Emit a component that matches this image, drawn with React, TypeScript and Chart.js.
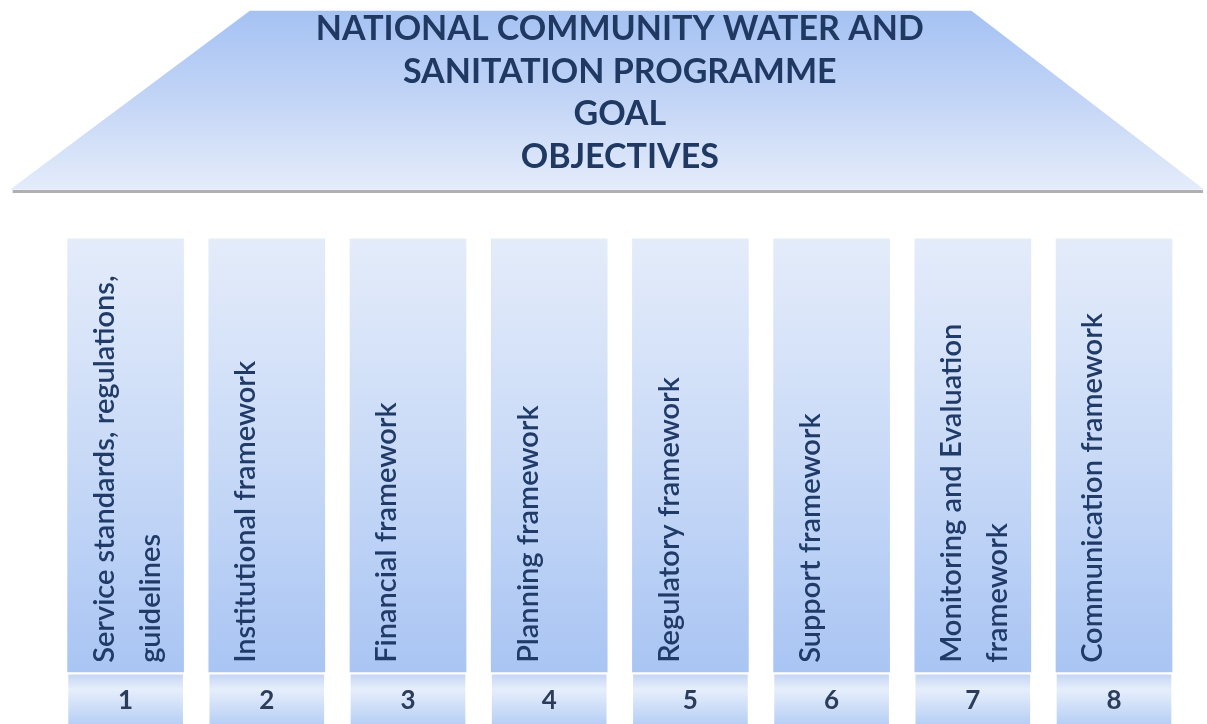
import React, { useEffect, useRef } from "react";
import { Chart, registerables } from "chart.js";

Chart.register(...registerables);

// ---- diagram content ----
// x in pillar-index units, y in "level" units (0 = bottom edge, 100 = top edge)
const pillarNumbers = ["1", "2", "3", "4", "5", "6", "7", "8"];
const pillarIndex = [0, 1, 2, 3, 4, 5, 6, 7];
const pillarLabels: string[][] = [
  ["Service standards, regulations,", "guidelines"],
  ["Institutional framework"],
  ["Financial framework"],
  ["Planning framework"],
  ["Regulatory framework"],
  ["Support framework"],
  ["Monitoring and Evaluation", "framework"],
  ["Communication framework"],
];
const titleLines = [
  "NATIONAL COMMUNITY WATER AND",
  "SANITATION PROGRAMME",
  "GOAL",
  "OBJECTIVES",
];
const pillarBottom = [7.2, 7.2, 7.2, 7.2, 7.2, 7.2, 7.2, 7.2];
const pillarTop = [67.0, 67.0, 67.0, 67.0, 67.0, 67.0, 67.0, 67.0];
const baseBottom = [-3, -3, -3, -3, -3, -3, -3, -3];
const baseTop = [6.8, 6.8, 6.8, 6.8, 6.8, 6.8, 6.8, 6.8];
const roofX = [-0.82, 0.88, 5.99, 7.64];
const roofY = [73.8, 98.5, 98.5, 73.8];
const roofShadowY = [73.55, 73.55];
const xRange = [-0.8895, 7.6586];

function vGrad(chart: any, yTop: number, yBottom: number, stops: [number, string][]) {
  const { ctx, chartArea, scales } = chart;
  if (!chartArea || !scales || !scales.y) return stops[stops.length - 1][1];
  const t = scales.y.getPixelForValue(yTop);
  const b = scales.y.getPixelForValue(yBottom);
  const g = ctx.createLinearGradient(0, t, 0, b);
  stops.forEach(([o, c]) => g.addColorStop(o, c));
  return g;
}

const FONT = "Lato, 'Open Sans', sans-serif";

const textPlugin = {
  id: "diagramText",
  afterDatasetsDraw(chart: any) {
    const { ctx, chartArea, scales } = chart;
    const y = scales.y;
    const x = scales.x;
    ctx.save();

    // title in the roof
    ctx.fillStyle = "#1f3962";
    ctx.font = `bold 34px ${FONT}`;
    ctx.textAlign = "center";
    ctx.textBaseline = "middle";
    const cx = x.getPixelForValue(3.5);
    const roofTopPx = y.getPixelForValue(roofY[1]);
    titleLines.forEach((t, i) => {
      ctx.fillText(t, cx, roofTopPx + 18 + i * 42.7);
    });

    // vertical pillar labels
    const pillars = chart.getDatasetMeta(2).data;
    ctx.font = `600 29px ${FONT}`;
    ctx.fillStyle = "#203b68";
    ctx.textAlign = "left";
    pillars.forEach((bar: any, i: number) => {
      const lines = pillarLabels[i];
      const startY = bar.base - 9;
      ctx.save();
      ctx.translate(bar.x - 21, startY);
      ctx.rotate(-Math.PI / 2);
      lines.forEach((l, j) => ctx.fillText(l, 0, j * 46));
      ctx.restore();
    });

    // numbers in the bases
    const bases = chart.getDatasetMeta(3).data;
    ctx.font = `bold 26px ${FONT}`;
    ctx.fillStyle = "#2c3d5c";
    ctx.textAlign = "center";
    bases.forEach((bar: any, i: number) => {
      ctx.fillText(pillarNumbers[i], bar.x, (bar.y + chartArea.bottom) / 2 + 1);
    });

    ctx.restore();
  },
};

export default function App() {
  const ref = useRef<HTMLCanvasElement | null>(null);

  useEffect(() => {
    if (!ref.current) return;
    const chart = new Chart(ref.current, {
      type: "bar",
      data: {
        datasets: [
          {
            type: "line",
            label: "Roof shadow",
            data: [
              { x: roofX[0] + 0.02, y: roofShadowY[0] },
              { x: roofX[3] - 0.01, y: roofShadowY[1] },
            ],
            borderColor: "rgba(150,150,150,0.75)",
            borderWidth: 3,
            pointRadius: 0,
            fill: false,
            clip: false,
            order: 5,
          } as any,
          {
            type: "line",
            label: "Roof",
            data: roofX.map((v, i) => ({ x: v, y: roofY[i] })),
            fill: { value: roofY[0] },
            backgroundColor: (c: any) =>
              vGrad(c.chart, roofY[1], roofY[0], [
                [0, "#a5c2f3"],
                [0.5, "#c3d5f6"],
                [1, "#e4ecfa"],
              ]),
            borderColor: "rgba(0,0,0,0)",
            borderWidth: 0,
            pointRadius: 0,
            tension: 0,
            clip: false,
            order: 4,
          } as any,
          {
            type: "bar",
            label: "Pillars",
            data: pillarIndex.map((v, i) => ({ x: v, y: [pillarBottom[i], pillarTop[i]] })),
            backgroundColor: (c: any) =>
              vGrad(c.chart, pillarTop[0], pillarBottom[0], [
                [0, "#e4ecfa"],
                [0.5, "#c9daf7"],
                [1, "#a9c5f3"],
              ]),
            borderWidth: 0,
            barThickness: 116,
            grouped: false,
            order: 3,
          } as any,
          {
            type: "bar",
            label: "Bases",
            data: pillarIndex.map((v, i) => ({ x: v, y: [baseBottom[i], baseTop[i]] })),
            backgroundColor: (c: any) =>
              vGrad(c.chart, baseTop[0], 0, [
                [0, "#c6d7f4"],
                [0.3, "#e6eefb"],
                [1, "#b7cff5"],
              ]),
            borderWidth: 0,
            barThickness: 114,
            grouped: false,
            order: 2,
          } as any,
        ],
      },
      options: {
        animation: false,
        responsive: false,
        devicePixelRatio: 1,
        layout: { padding: 0 },
        plugins: {
          legend: { display: false },
          tooltip: { enabled: false },
          title: { display: false },
        },
        scales: {
          x: {
            type: "linear",
            display: false,
            offset: false,
            min: xRange[0],
            max: xRange[1],
            grid: { display: false },
          },
          y: { type: "linear", display: false, min: 0, max: 100 },
        },
      } as any,
      plugins: [textPlugin],
    });
    return () => chart.destroy();
  }, []);

  return (
    <div style={{ position: "fixed", left: 0, top: 0, width: 1207, height: 724, background: "#ffffff" }}>
      <canvas ref={ref} width={1207} height={724} style={{ display: "block" }} />
    </div>
  );
}
